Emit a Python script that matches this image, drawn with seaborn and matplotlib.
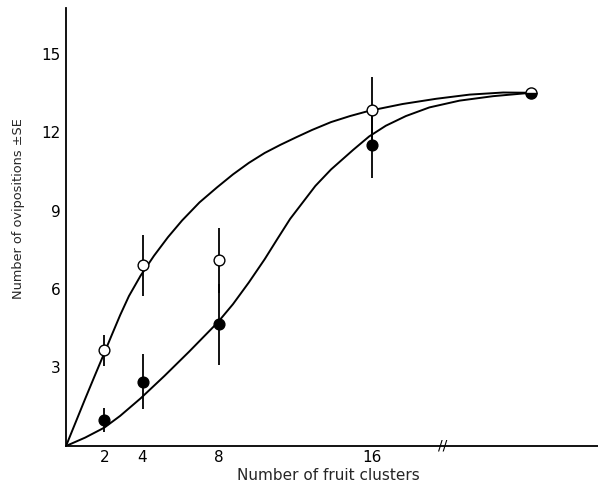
import numpy as np
import matplotlib
matplotlib.use("Agg")
import matplotlib.pyplot as plt
import seaborn as sns

# Mean ovipositions (± SE) versus number of fruit clusters
clusters = [2, 4, 8, 16, 32]
open_mean = [3.65, 6.9, 7.1, 12.85, 13.5]
open_se = [0.6, 1.15, 1.25, 1.25, 0.0]
filled_mean = [1.0, 2.45, 4.65, 11.5, 13.5]
filled_se = [0.45, 1.05, 1.55, 1.25, 0.0]

# Hand-fitted response curves
upper_x = [0, 0.5, 1.0, 1.5, 2.0, 2.38, 2.83, 3.29, 3.90, 4.60, 5.33, 6.07,
           6.98, 7.89, 8.73, 9.56, 10.39, 11.21, 12.04, 12.87, 13.86, 14.85,
           15.85, 19.07, 22.45, 25.82, 29.19, 32]
upper_y = [0, 0.9, 1.8, 2.68, 3.55, 4.22, 5.0, 5.73, 6.51, 7.27, 7.98, 8.62,
           9.31, 9.88, 10.38, 10.82, 11.20, 11.51, 11.80, 12.08, 12.38, 12.61,
           12.81, 13.07, 13.27, 13.43, 13.51, 13.5]
lower_x = [0, 1.0, 2.0, 2.83, 3.90, 5.15, 6.43, 7.93, 8.73, 9.56, 10.39,
           11.05, 11.72, 12.38, 13.04, 13.86, 15.02, 15.85, 17.39, 19.41,
           21.77, 24.81, 28.18, 32]
lower_y = [0, 0.32, 0.7, 1.15, 1.82, 2.68, 3.6, 4.72, 5.42, 6.25, 7.14,
           7.91, 8.68, 9.31, 9.94, 10.57, 11.32, 11.83, 12.24, 12.61,
           12.94, 13.20, 13.37, 13.5]

x_ticks = [2, 4, 8, 16]
y_ticks = [3, 6, 9, 12, 15]
x_label = "Number of fruit clusters"
y_label = "Number of ovipositions \u00b1SE"

sns.set_style("white")
plt.rcParams["font.family"] = ["DejaVu Sans"]

# Axis is broken after 16: values beyond it are compressed
BREAK = 16.0
SQUEEZE = 0.52


def fwd(x):
    x = np.asarray(x, dtype=float)
    return np.where(x <= BREAK, x, BREAK + (x - BREAK) * SQUEEZE)


def inv(y):
    y = np.asarray(y, dtype=float)
    return np.where(y <= BREAK, y, BREAK + (y - BREAK) / SQUEEZE)


fig = plt.figure(figsize=(5.98, 4.88), dpi=100)
ax = fig.add_axes([0.1104, 0.0861, 0.8896, 0.8975])
ax.set_xscale("function", functions=(fwd, inv))

lw = 1.4
sns.lineplot(x=upper_x, y=upper_y, color="black", linewidth=lw, ax=ax,
             zorder=2)
sns.lineplot(x=lower_x, y=lower_y, color="black", linewidth=lw, ax=ax,
             zorder=2)

n = len(clusters) - 1
ax.errorbar(clusters[:n], open_mean[:n], yerr=open_se[:n], fmt="none",
            ecolor="black", elinewidth=1.3, capsize=0, zorder=3)
ax.errorbar(clusters[:n], filled_mean[:n], yerr=filled_se[:n], fmt="none",
            ecolor="black", elinewidth=1.3, capsize=0, zorder=3)

sns.scatterplot(x=clusters[:n], y=open_mean[:n], marker="o", s=60,
                facecolor="white", edgecolor="black", linewidth=1.0,
                ax=ax, zorder=5)
sns.scatterplot(x=clusters[:n], y=filled_mean[:n], marker="o", s=60,
                facecolor="black", edgecolor="black", linewidth=1.0,
                ax=ax, zorder=5)
# Both treatments coincide at the largest cluster number
ax.plot([clusters[-1]], [open_mean[-1]], marker="o", markersize=8,
        fillstyle="bottom", markerfacecolor="black",
        markerfacecoloralt="white", markeredgecolor="black",
        markeredgewidth=1.0, linestyle="none", zorder=6)

ax.set_xlim(0, 38.73)
ax.set_ylim(0, 16.74)
ax.set_xticks(x_ticks)
ax.set_xticklabels([str(t) for t in x_ticks])
ax.set_yticks(y_ticks)
ax.set_yticklabels([str(t) for t in y_ticks])
ax.minorticks_off()

for side in ("top", "right"):
    ax.spines[side].set_visible(False)
for side in ("left", "bottom"):
    ax.spines[side].set_linewidth(1.3)
    ax.spines[side].set_color("black")

ax.tick_params(axis="both", direction="in", length=9.5, width=1.2,
               colors="black", labelsize=11)
ax.tick_params(axis="y", pad=4)
ax.tick_params(axis="x", pad=3)

ax.set_xlabel(x_label, fontsize=11)
ax.set_ylabel(y_label, fontsize=9.3)
ax.xaxis.set_label_coords(0.4925, -0.05)
ax.yaxis.set_label_coords(-0.077, 0.543)

# Axis-break mark
ax.text(23.14, 0, "//", transform=ax.get_xaxis_transform(), ha="center",
        va="center", fontsize=10, color="black", clip_on=False)

fig.savefig("out.png", dpi=100)
